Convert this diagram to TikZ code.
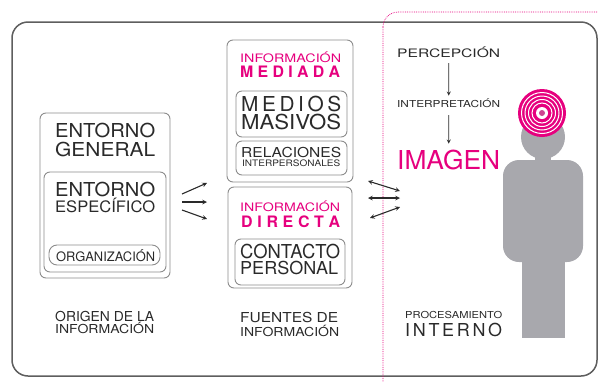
\documentclass[tikz,border=0pt]{standalone}
\usepackage{fontspec}
\setmainfont{TeX Gyre Heros}
\usepackage{graphicx}
\usetikzlibrary{arrows}
\definecolor{rosa}{HTML}{E6007E}
\definecolor{texto}{HTML}{2A2A2A}
\definecolor{borde}{HTML}{8C8C8C}
\definecolor{marco}{HTML}{5E5E5E}
\definecolor{silueta}{HTML}{A8A8AD}
\tikzstyle{caja} = [rectangle, rounded corners=6pt, draw=borde, line width=0.9pt, inner sep=0pt]
\tikzstyle{rotulo} = [anchor=south west, inner sep=0pt, text=texto]
\tikzstyle{flecha} = [line width=1.1pt, ->, >=stealth, draw=texto]
\tikzstyle{dobleflecha} = [line width=1.1pt, <->, >=stealth, draw=texto]
\newcommand{\ajuste}[3]{\resizebox{#1}{#2}{\vphantom{E}\smash{#3}}}
\newcommand{\espaciado}[2]{\makebox[#1][s]{#2}}

\begin{document}
\begin{tikzpicture}[x=1pt, y=-1pt]
	\useasboundingbox (0,0) rectangle (598,381);
	\draw[marco, line width=1.5pt, rounded corners=16pt] (12,22) rectangle (597,376);
	\draw[rosa, line width=0.7pt, dash pattern=on 0.8pt off 1pt, rounded corners=15pt] (383,12) rectangle (640,420);

	\node (general) at (105, 195.5) [caja, minimum width=130pt, minimum height=165pt] {};
	\node (especifico) at (105, 222) [caja, minimum width=122pt, minimum height=100pt] {};
	\node (organizacion) at (104.5, 255) [caja, rounded corners=8pt, minimum width=111pt, minimum height=20pt] {};
	\node (mediada) at (290, 111) [caja, minimum width=126pt, minimum height=142pt] {};
	\node (masivos) at (291.5, 114) [caja, minimum width=111pt, minimum height=46pt] {};
	\node (relaciones) at (291.5, 158) [caja, minimum width=111pt, minimum height=34pt] {};
	\node (directa) at (290, 237.5) [caja, minimum width=124pt, minimum height=101pt] {};
	\node (contacto) at (290, 262) [caja, minimum width=110pt, minimum height=46pt] {};

	\node (entorno1) at (55, 138) [rotulo] {\ajuste{100pt}{14pt}{ENTORNO}};
	\node (general1) at (55, 157) [rotulo] {\ajuste{100pt}{14pt}{GENERAL}};
	\node (entorno2) at (55, 197) [rotulo] {\ajuste{100pt}{14pt}{ENTORNO}};
	\node (especifico1) at (55, 213) [rotulo] {\ajuste{100pt}{11.5pt}{ESPECÍFICO}};
	\node (organizacion1) at (56, 262) [rotulo] {\ajuste{99pt}{9.5pt}{ORGANIZACIÓN}};
	\node (origen1) at (55, 322) [rotulo] {\ajuste{99pt}{10pt}{ORIGEN DE LA}};
	\node (origen2) at (55, 334) [rotulo] {\ajuste{99pt}{9pt}{INFORMACIÓN}};

	\node (mediada1) at (240, 62.7) [rotulo, text=rosa] {\ajuste{101pt}{8.5pt}{INFORMACIÓN}};
	\node (mediada2) at (240, 78) [rotulo, text=rosa] {\ajuste{100pt}{11.5pt}{\bfseries\espaciado{6.3em}{M\hfil E\hfil D\hfil I\hfil A\hfil D\hfil A}}};
	\node (masivos1) at (241, 112) [rotulo] {\ajuste{100pt}{15pt}{\espaciado{4.8em}{M\hfil E\hfil D\hfil I\hfil O\hfil S}}};
	\node (masivos2) at (241, 130) [rotulo] {\ajuste{100pt}{15pt}{MASIVOS}};
	\node (relaciones1) at (241, 158) [rotulo] {\ajuste{100pt}{10pt}{RELACIONES}};
	\node (relaciones2) at (242, 167) [rotulo] {\ajuste{98pt}{6.5pt}{INTERPERSONALES}};
	\node (directa1) at (240, 211.7) [rotulo, text=rosa] {\ajuste{100pt}{8.5pt}{INFORMACIÓN}};
	\node (directa2) at (241, 228) [rotulo, text=rosa] {\ajuste{99pt}{11.5pt}{\bfseries\espaciado{6.2em}{D\hfil I\hfil R\hfil E\hfil C\hfil T\hfil A}}};
	\node (contacto1) at (240, 259) [rotulo] {\ajuste{100pt}{14pt}{CONTACTO}};
	\node (contacto2) at (240, 275) [rotulo] {\ajuste{98pt}{13pt}{PERSONAL}};
	\node (fuentes1) at (240, 323) [rotulo] {\ajuste{98pt}{10pt}{FUENTES DE}};
	\node (fuentes2) at (240, 337) [rotulo] {\ajuste{99pt}{9pt}{INFORMACIÓN}};

	\node (percepcion) at (397, 58) [rotulo] {\ajuste{103pt}{8.5pt}{PERCEPCIÓN}};
	\node (interpretacion) at (397, 108) [rotulo] {\ajuste{103pt}{7pt}{INTERPRETACIÓN}};
	\node (imagen) at (397, 170) [rotulo, text=rosa] {\ajuste{103pt}{19pt}{IMAGEN}};
	\node (procesamiento) at (405, 319) [rotulo] {\ajuste{97pt}{7pt}{PROCESAMIENTO}};
	\node (interno) at (405, 337) [rotulo] {\ajuste{97pt}{13pt}{\espaciado{5.4em}{I\hfil N\hfil T\hfil E\hfil R\hfil N\hfil O}}};

	\draw[flecha, line width=0.8pt, shorten <=5pt, shorten >=5pt] (percepcion.south) -- (interpretacion.north);
	\draw[flecha, line width=0.8pt, shorten <=7pt, shorten >=7pt] (interpretacion.south) -- (imagen.north);

	\coordinate (izq1) at (182, 194);
	\coordinate (izq2) at (182, 202);
	\coordinate (izq3) at (182, 210);
	\coordinate (der1) at (207, 183);
	\coordinate (der2) at (207, 202);
	\coordinate (der3) at (207, 219);
	\draw[flecha] (izq1) -- (der1);
	\draw[flecha] (izq2) -- (der2);
	\draw[flecha] (izq3) -- (der3);

	\coordinate (ent1) at (368, 181);
	\coordinate (ent2) at (368, 198);
	\coordinate (ent3) at (370, 218);
	\coordinate (sal1) at (400, 191);
	\coordinate (sal2) at (400, 198);
	\coordinate (sal3) at (400, 207);
	\draw[dobleflecha] (ent1) -- (sal1);
	\draw[dobleflecha] (ent2) -- (sal2);
	\draw[dobleflecha] (ent3) -- (sal3);

	\fill[silueta] (522, 250) rectangle (565, 338);
	\fill[silueta, rounded corners=16pt] (503, 160) rectangle (583, 262);
	\fill[silueta] (535, 145) rectangle (551, 165);
	\fill[silueta] (543, 137) circle (22pt);
	\fill[rosa] (542, 113) circle (24pt);
	\foreach \r in {20.5, 17, 13.5, 10}
		\draw[white, line width=1pt] (542, 113) circle (\r pt);
	\fill[white] (542, 113) circle (6pt);
	\fill[rosa!60!silueta] (542, 113) circle (3pt);
\end{tikzpicture}
\end{document}
